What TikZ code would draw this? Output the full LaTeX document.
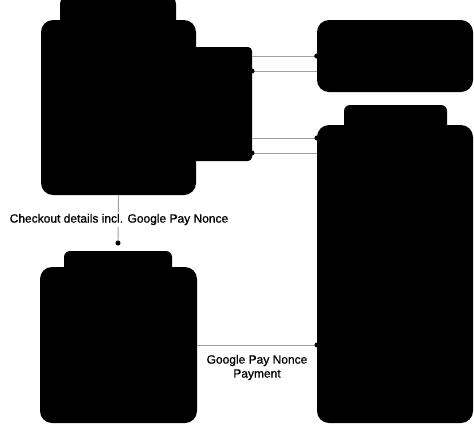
\documentclass[tikz,border=0pt]{standalone}
\usepackage{fontspec}
\setmainfont{Liberation Sans}
\newfontfamily\lblfont{Liberation Sans}[FakeBold=0.8]
\usetikzlibrary{arrows.meta}
\tikzset{
  blk/.style={fill=black, draw=none, inner sep=0pt, rounded corners=#1},
  blk/.default=12pt,
  conn/.style={draw=black!38, line width=0.9pt, shorten >=-2.5pt,
    -{Circle[length=5pt,color=black]}},
  lbl/.style={font=\lblfont\fontsize{12}{14}\selectfont, text=black, inner sep=2pt, align=center},
}
\begin{document}
\begin{tikzpicture}[x=1pt,y=-1pt]
\useasboundingbox (0,0) rectangle (474,424);
% top-left group
\node[blk=8pt, minimum width=116pt, minimum height=34pt] (tlTab) at (118,13) {};
\node[blk, minimum width=155pt, minimum height=175pt] (tlMain) at (118.5,107.5) {};
\node[blk=4pt, minimum width=64pt, minimum height=114pt] (tlSide) at (220,104) {};
% right top box
\node[blk, minimum width=156pt, minimum height=72pt] (rtBox) at (395,56) {};
% right big box
\node[blk=6pt, minimum width=103pt, minimum height=30pt] (rbTab) at (395.5,120) {};
\node[blk, minimum width=156pt, minimum height=298pt] (rbMain) at (395,274) {};
% bottom-left box
\node[blk=6pt, minimum width=108pt, minimum height=29pt] (blTab) at (118,265.5) {};
\node[blk, minimum width=157pt, minimum height=156pt] (blMain) at (118.5,345) {};
% connection points
\coordinate (l1) at (252,56);
\coordinate (l2) at (252,71);
\coordinate (r2) at (317,71);
\coordinate (l3) at (252,138);
\coordinate (r3) at (317,138);
\coordinate (l4) at (252,153);
\coordinate (r4) at (317,153);
\coordinate (bend) at (118,243);
\coordinate (r5) at (317,345);
% connectors
\draw[conn] (l1) -- (rtBox.west);
\draw[conn] (r2) -- (l2);
\draw[conn] (l3) -- (r3);
\draw[conn] (r4) -- (l4);
\draw[conn] (tlMain.south) -- (bend);
\draw[conn] (blMain.east |- r5) -- (r5);
% labels
\node[lbl, fill=white] (lab1) at (119,219.5) {Checkout details incl. Google Pay Nonce};
\node[lbl] (lab2) at (257,367.5) {Google Pay Nonce\\Payment};
\end{tikzpicture}
\end{document}
